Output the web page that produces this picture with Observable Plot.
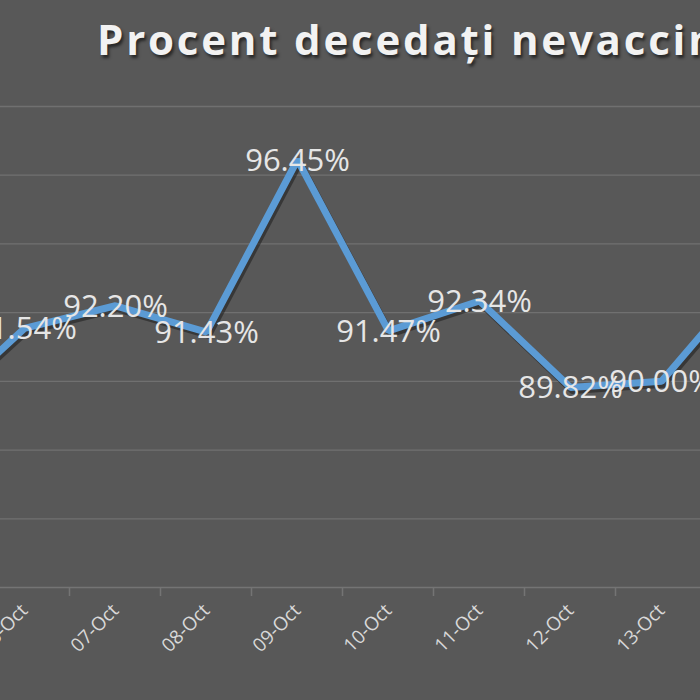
<!DOCTYPE html>
<html>
<head>
<meta charset="utf-8">
<script src="https://cdn.jsdelivr.net/npm/d3@7"></script>
<script src="https://cdn.jsdelivr.net/npm/@observablehq/plot@0.6"></script>
<style>
  html, body { margin: 0; padding: 0; background: #585858; width: 700px; height: 700px; overflow: hidden; }
  #wrap { position: relative; width: 700px; height: 700px; overflow: hidden; background: #585858; }
  #title { position: absolute; left: 97px; top: 10px; white-space: nowrap; font-family: "Open Sans", sans-serif; font-weight: 700; font-size: 42px; letter-spacing: 2.8px; color: #f2f2f2; text-shadow: 2px 3px 3px rgba(0,0,0,0.55); }
  #chart { position: absolute; left: 0; top: 90px; }
  #chart svg { overflow: hidden; }
</style>
</head>
<body>
<div id="wrap">
  <div id="title">Procent decedați nevaccinați</div>
  <div id="chart"></div>
</div>
<script>
const dates = ["05-Oct","06-Oct","07-Oct","08-Oct","09-Oct","10-Oct","11-Oct","12-Oct","13-Oct","14-Oct"];
const values = [89.10, 91.54, 92.20, 91.43, 96.45, 91.47, 92.34, 89.82, 90.00, 93.10];
const yTicks = [84, 86, 88, 90, 92, 94, 96, 98];

const data = dates.map((d, i) => ({date: d, value: values[i]}));

const chart = Plot.plot({
  width: 700,
  height: 610,
  marginTop: 16,
  marginBottom: 113,
  marginLeft: 0,
  marginRight: 0,
  style: {background: "#585858", overflow: "hidden"},
  x: {type: "point", domain: dates, range: [-71, 756], padding: 0, label: null},
  y: {domain: [84, 98], axis: null},
  marks: [
    Plot.gridY(yTicks.slice(1), {stroke: "#707070", strokeOpacity: 1, strokeWidth: 1.3}),
    Plot.ruleY([84], {stroke: "#747474", strokeWidth: 1.5}),
    Plot.axisX({tickSize: 9, dx: -46, stroke: "#747474", strokeWidth: 1.5, text: null, label: null}),
    Plot.axisX({tickSize: 0, tickPadding: 20, tickRotate: -45, fill: "#d9d9d9", fontSize: 19, fontFamily: "Open Sans, sans-serif", label: null}),
    Plot.line(data, {x: "date", y: "value", stroke: "#1e1e1e", strokeOpacity: 0.55, strokeWidth: 7, dx: 2, dy: 3, curve: "linear"}),
    Plot.line(data, {x: "date", y: "value", stroke: "#5b9bd5", strokeWidth: 7, strokeLinejoin: "miter", curve: "linear"}),
    Plot.text(data, {x: "date", y: "value", text: d => d.value.toFixed(2) + "%", fill: "#e6e6e6", fontSize: 31, fontFamily: "Open Sans, sans-serif", dy: 1})
  ]
});
document.getElementById("chart").appendChild(chart);
</script>
</body>
</html>
